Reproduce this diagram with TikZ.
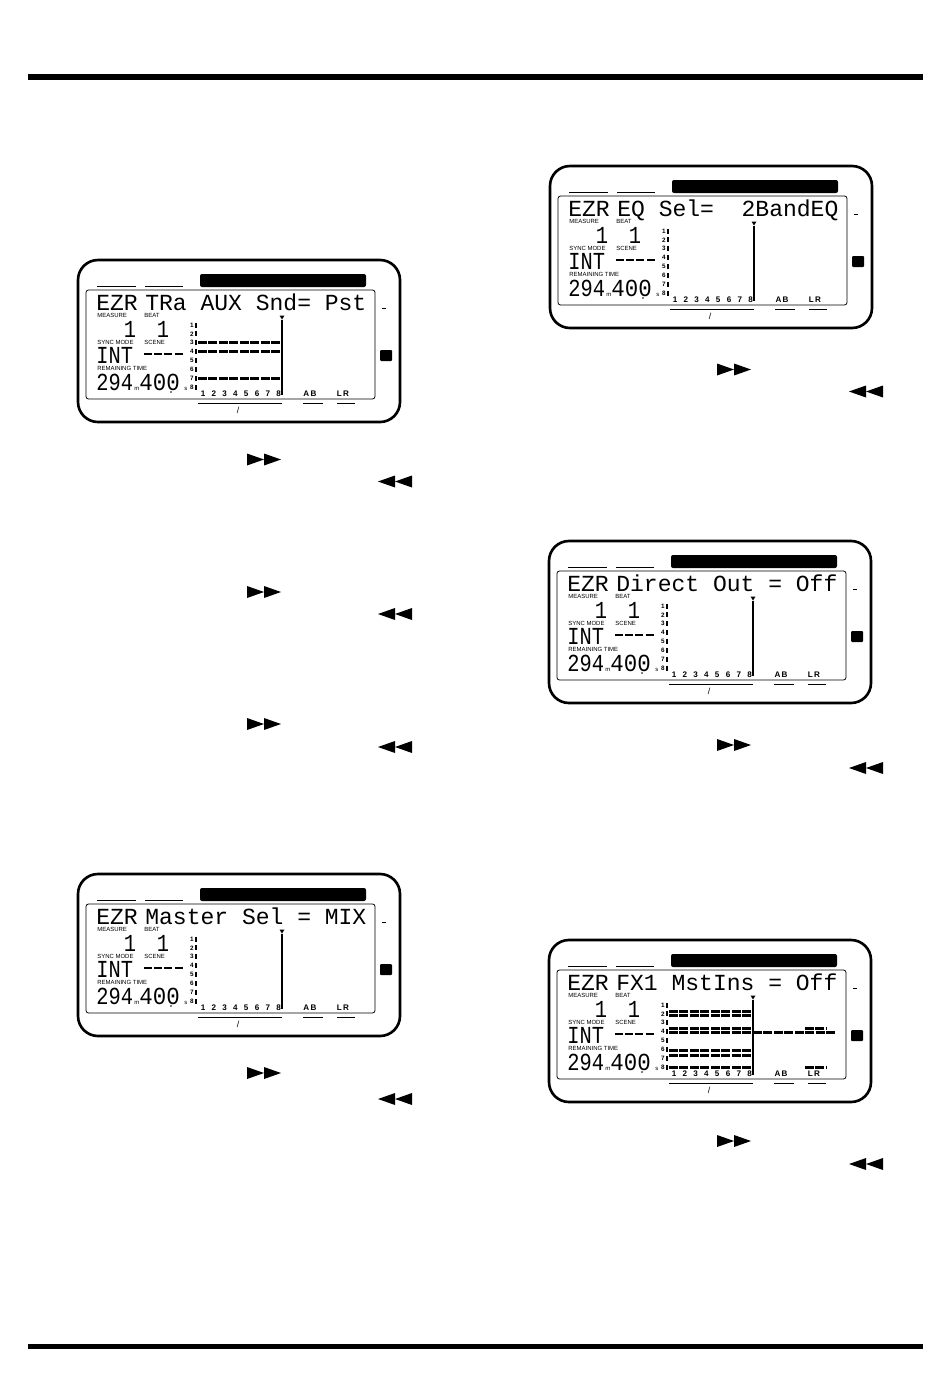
\documentclass[tikz,border=0pt]{standalone}
\usepackage{fontspec}
\setmainfont{Liberation Sans}
\newfontfamily\lcdfont{Liberation Mono}

% one LCD screen: #1 name, #2 top left corner, #3 text after EZR
\newcommand{\lcdpanel}[3]{%
  \begin{scope}[shift={#2}]
    % Drawing outer frame
    \draw [panel] (0,0) rectangle (322,162);%
    \fill [rounded corners=0.04cm] (122,14) rectangle (288,27);%
    \draw [thin] (19,26) -- (58,26);%
    \draw [thin] (67,26) -- (105,26);%
    % Drawing display window
    \draw [lcd] (8,30) rectangle (297,139);%
    \draw [thin] (304,48) -- (308,48);%
    \fill [rounded corners=0.02cm] (302,90) rectangle (314,101);%
    % Marking top line
    \node [lcdtext] (#1-ezr) at (18,50) {EZR};%
    \node [lcdtext] (#1-par) at (67,50) {#3};%
    % Marking counters
    \node [label] (#1-measure) at (19,57) {MEASURE};%
    \node [label] (#1-beat) at (66,57) {BEAT};%
    \node [biglcd, anchor=base] (#1-m) at (52,77) {\scalebox{1}[1.2]{1}};%
    \node [biglcd, anchor=base] (#1-b) at (85,77) {\scalebox{1}[1.2]{1}};%
    \node [label] (#1-sync) at (19,84) {SYNC MODE};%
    \node [label] (#1-scene) at (66,84) {SCENE};%
    \node [biglcd] (#1-int) at (18,103) {\scalebox{1}[1.2]{INT}};%
    \draw [line width=1.1pt, dash pattern=on 4.6pt off 1.2pt] (66,94) -- (106,94);%
    \node [label] (#1-remain) at (19,110) {REMAINING TIME};%
    \node [biglcd] (#1-min) at (18,130) {\scalebox{1}[1.2]{294}};%
    \node [label] (#1-mu) at (56,130) {m};%
    \node [biglcd] (#1-sec) at (61,130) {\scalebox{1.1}[1.2]{400}};%
    \node [label] (#1-su) at (106,130) {s};%
    \fill (93,132) circle (0.5pt);%
    % Marking channels
    \foreach \k in {1,...,8} {
      \node [chan, anchor=east] (#1-c\k) at (116,{65+(\k-1)*8.9}) {\k};%
      \draw [line width=0.8pt] (118,{62.5+(\k-1)*8.9}) -- (118,{67.5+(\k-1)*8.9});%
      \node [num] (#1-n\k) at ({125+(\k-1)*10.8},134) {\k};%
    }
    \node [num] (#1-ab) at (232,134) {A\,B};%
    \node [num] (#1-lr) at (265,134) {L\,R};%
    % Drawing cursor
    \fill (201.5,55.5) -- (206.5,55.5) -- (204,59.5) -- cycle;%
    \draw [line width=0.6pt] (204,59.5) -- (204,135);%
    % Drawing lines under the window
    \draw [thin] (120,143) -- (204,143);%
    \draw [thin] (225,143) -- (245,143);%
    \draw [thin] (259,143) -- (277,143);%
    \node [label, anchor=center, font=\fontsize{5}{5}\selectfont] (#1-slash) at (160,150) {/};%
  \end{scope}}

% double arrow right, #1 left end
\newcommand{\fwdicon}[2]{%
  \fill (#1,#2) ++(0,-6) -- ++(17,6) -- ++(-17,6) -- cycle;%
  \fill (#1,#2) ++(17,-6) -- ++(17,6) -- ++(-17,6) -- cycle;}
% double arrow left, #1 right end
\newcommand{\rewicon}[2]{%
  \fill (#1,#2) ++(0,-6) -- ++(-17,6) -- ++(17,6) -- cycle;%
  \fill (#1,#2) ++(-17,-6) -- ++(-17,6) -- ++(17,6) -- cycle;}

\begin{document}
\begin{tikzpicture}[x=0.02cm, y=-0.02cm,
    panel/.style={line width=1.5pt, rounded corners=0.4cm},
    lcd/.style={line width=0.45pt, rounded corners=0.05cm},
    thin/.style={line width=0.5pt},
    lcdtext/.style={inner sep=0pt, anchor=base west, font=\lcdfont\fontsize{13.1}{14}\selectfont},
    biglcd/.style={inner sep=0pt, anchor=base west, font=\lcdfont\fontsize{11.6}{14}\selectfont},
    label/.style={inner sep=0pt, anchor=base west, font=\fontsize{3.4}{4}\selectfont},
    chan/.style={inner sep=0pt, font=\fontsize{3.6}{4}\selectfont\bfseries},
    num/.style={inner sep=0pt, font=\fontsize{4.6}{5}\selectfont\bfseries},
    meter/.style={line width=1.7pt, dash pattern=on 5.1pt off 0.85pt}]
  \useasboundingbox (0,0) rectangle (950,1379);

  % Drawing page rules
  \fill (28,74) rectangle (923,80);%
  \fill (28,1344) rectangle (923,1349);%

  % Drawing screen 1
  \lcdpanel{p1}{(78,260)}{TRa~AUX~Snd=~Pst}
  \begin{scope}[shift={(78,260)}]
    \draw [meter] (120,82.8) -- (204,82.8);%
    \draw [meter] (120,91.7) -- (204,91.7);%
    \draw [meter] (120,118.4) -- (204,118.4);%
  \end{scope}

  % Drawing screen 2
  \lcdpanel{p2}{(550,166)}{EQ~Sel=~~2BandEQ}

  % Drawing screen 3
  \lcdpanel{p3}{(549,541)}{Direct~Out~=~Off}

  % Drawing screen 4
  \lcdpanel{p4}{(78,874)}{Master~Sel~=~MIX}

  % Drawing screen 5
  \lcdpanel{p5}{(549,940)}{FX1~MstIns~=~Off}
  \begin{scope}[shift={(549,940)}]
    \foreach \h in {71.5,75.5,88.5,92.5,110,115,127}
      \draw [meter] (120,\h) -- (204,\h);%
    \draw [meter] (204,92.5) -- (286,92.5);%
    \draw [meter] (256,88.5) -- (277,88.5);%
    \draw [meter] (256,127) -- (277,127);%
  \end{scope}

  % Marking arrow buttons
  \fwdicon{247}{459.5}  \rewicon{412}{481.5}
  \fwdicon{247}{592}    \rewicon{412}{614}
  \fwdicon{247}{724}    \rewicon{412}{747}
  \fwdicon{247}{1073}   \rewicon{412}{1099}
  \fwdicon{717}{369.5}  \rewicon{883}{391.5}
  \fwdicon{717}{745}    \rewicon{883}{768}
  \fwdicon{717}{1141}   \rewicon{883}{1164}
\end{tikzpicture}
\end{document}
